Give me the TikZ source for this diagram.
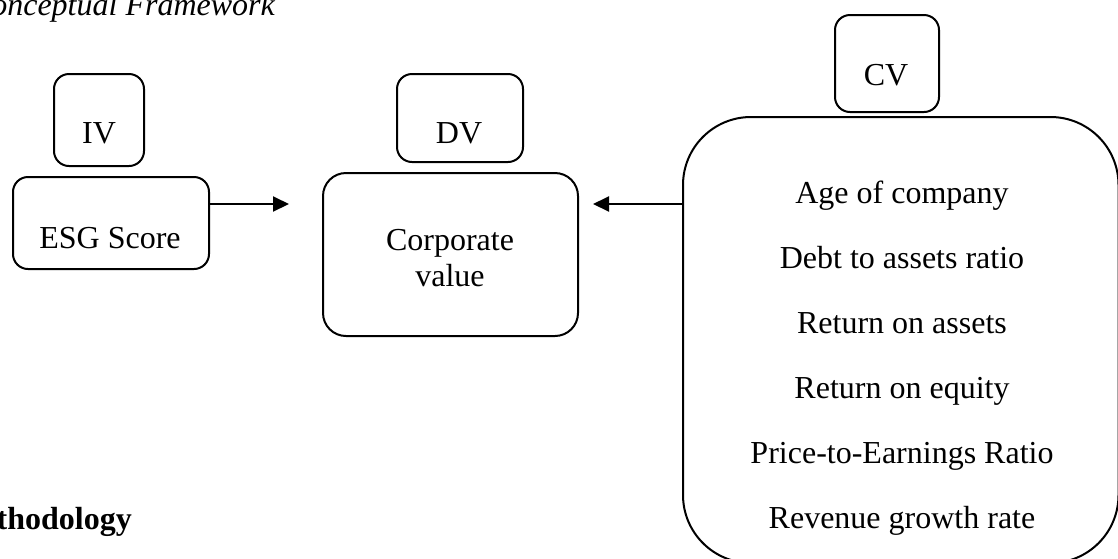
\documentclass[tikz,border=0pt]{standalone}
\usepackage{fontspec}
\setmainfont{Liberation Serif}
\usetikzlibrary{arrows.meta}
\begin{document}
\begin{tikzpicture}[x=1pt,y=-1pt,
  box/.style={draw, line width=2pt, rounded corners=15pt, inner sep=0pt, anchor=center},
  txt/.style={font=\fontsize{32}{38}\selectfont, inner sep=0pt, anchor=base},
  conn/.style={line width=2pt, -{Triangle[length=16pt,width=15pt]}}]
\useasboundingbox (0,0) rectangle (1118,558);
\clip (0,0) rectangle (1118,558);
% headings (cut off by the page edge)
\node[txt, anchor=base east, font=\fontsize{32}{38}\selectfont\itshape] (title) at (275,15) {Conceptual Framework};
\node[txt, anchor=base east, font=\fontsize{32}{38}\selectfont\bfseries] (meth) at (132,529) {Methodology};
% boxes
\node[box, minimum width=90pt, minimum height=92pt] (ivbox) at (99,120) {};
\node[box, minimum width=196pt, minimum height=92pt] (esg) at (111,223) {};
\node[box, minimum width=126pt, minimum height=88pt] (dvbox) at (460,118) {};
\node[box, minimum width=255pt, minimum height=163pt, rounded corners=23pt] (corp) at (450.5,254.5) {};
\node[box, minimum width=104pt, minimum height=97pt] (cvbox) at (887,63.5) {};
\node[box, minimum width=435.5pt, minimum height=446pt, rounded corners=68pt] (ctrl) at (900.75,340) {};
% texts
\node[txt] (ivt) at (99,143) {IV};
\node[txt] (esgt) at (110,248) {ESG Score};
\node[txt] (dvt) at (459,143) {DV};
\node[txt] (corpt1) at (450,250.7) {Corporate};
\node[txt] (corpt2) at (450,286.7) {value};
\node[txt] (cvt) at (886,85) {CV};
\node[txt] (c1) at (902,203) {Age of company};
\node[txt] (c2) at (902,268) {Debt to assets ratio};
\node[txt] (c3) at (902,333) {Return on assets};
\node[txt] (c4) at (902,398) {Return on equity};
\node[txt] (c5) at (902,463) {Price-to-Earnings Ratio};
\node[txt] (c6) at (902,528) {Revenue growth rate};
% connectors
\coordinate (a1) at (289,204);
\coordinate (a2) at (593,204);
\draw[conn] (esg.east |- a1) -- (a1);
\draw[conn] (ctrl.west |- a2) -- (a2);
\end{tikzpicture}
\end{document}
